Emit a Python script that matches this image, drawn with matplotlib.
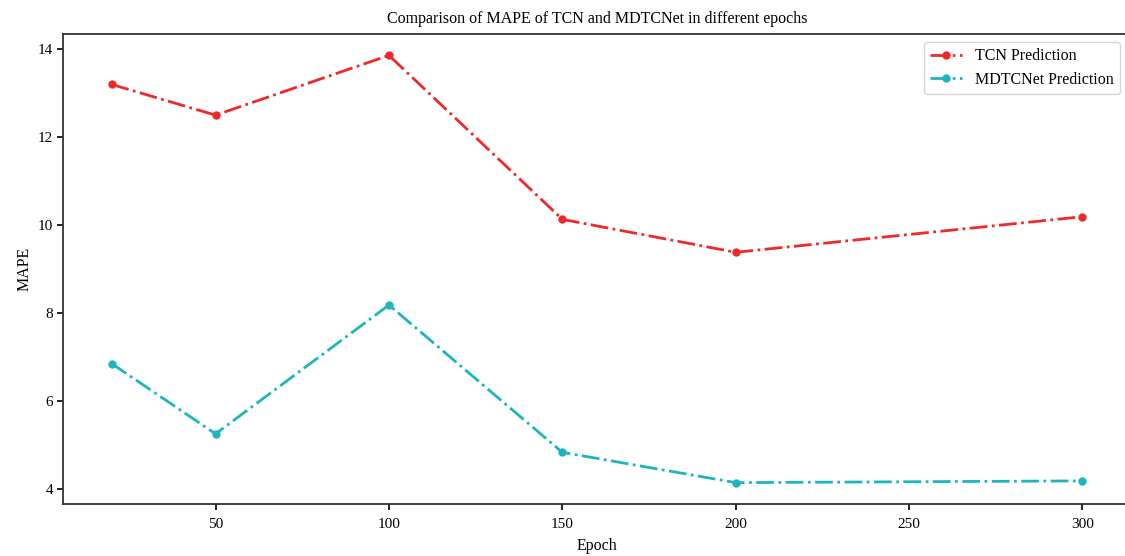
import matplotlib.pyplot as plt

epochs = [20, 50, 100, 150, 200, 300]
tcn_mape = [13.20, 12.50, 13.86, 10.13, 9.38, 10.19]
mdtcnet_mape = [6.85, 5.25, 8.18, 4.83, 4.14, 4.18]

plt.rcParams['font.family'] = ['Liberation Serif', 'DejaVu Serif']

fig = plt.figure(figsize=(11.25, 5.56), dpi=100)
ax = fig.add_axes([63 / 1125, 1 - 504 / 556, 1068 / 1125, 470 / 556])

ax.plot(epochs, tcn_mape, linestyle='-.', marker='o', color='#f0282a',
        linewidth=2, markersize=5, label='TCN Prediction')
ax.plot(epochs, mdtcnet_mape, linestyle='-.', marker='o', color='#1db5be',
        linewidth=2, markersize=5, label='MDTCNet Prediction')

ax.set_xticks([50, 100, 150, 200, 250, 300])
ax.set_yticks([4, 6, 8, 10, 12, 14])
ax.tick_params(labelsize=11, width=1.2, length=4, pad=3)
ax.tick_params(axis='x', pad=6)
for s in ax.spines.values():
    s.set_linewidth(1.3)
    s.set_color('#333333')

ax.set_xlabel('Epoch', fontsize=11.5, labelpad=5)
ax.set_ylabel('MAPE', fontsize=11.5)
ax.set_title('Comparison of MAPE of TCN and MDTCNet in different epochs', fontsize=11.5, pad=8)
ax.legend(loc='upper right', fontsize=11.5, labelspacing=0.45, bbox_to_anchor=(0.9975, 1.0))

fig.savefig('out.png', dpi=100)
